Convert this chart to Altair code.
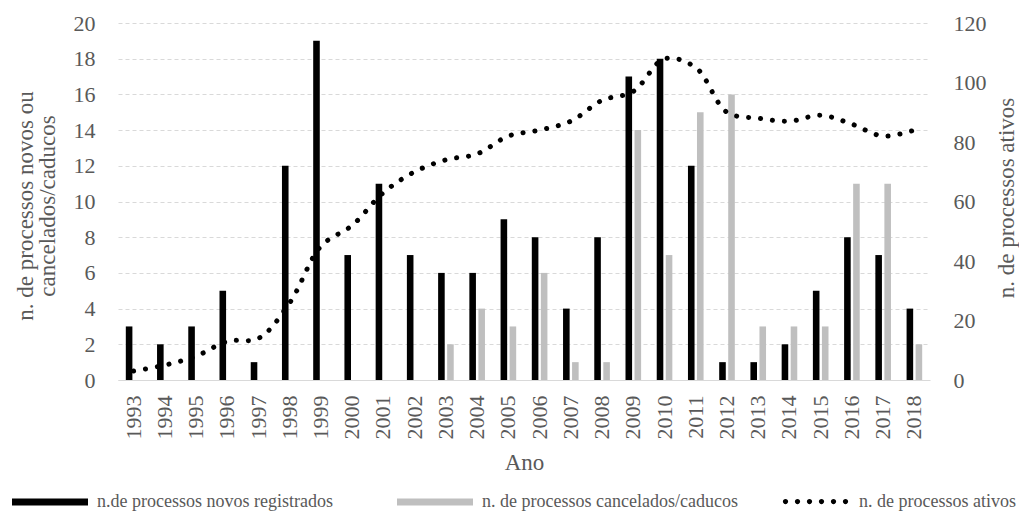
import altair as alt
import pandas as pd

anos = [str(y) for y in range(1993, 2019)]
novos = [3, 2, 3, 5, 1, 12, 19, 7, 11, 7, 6, 6, 9, 8, 4, 8, 17, 18, 12, 1, 1, 2, 5, 8, 7, 4]
cancelados = [0, 0, 0, 0, 0, 0, 0, 0, 0, 0, 2, 4, 3, 6, 1, 1, 14, 7, 15, 16, 3, 3, 3, 11, 11, 2]
ativos = [3, 5, 8, 13, 14, 26, 45, 52, 63, 70, 74, 76, 82, 84, 87, 94, 97, 108, 105, 90, 88, 87, 89, 86, 82, 84]

S1 = "n.de processos novos registrados"
S2 = "n. de processos cancelados/caducos"
S3 = "n. de processos ativos"

bars_df = pd.DataFrame({
    "ano": anos * 2,
    "serie": [S1] * len(anos) + [S2] * len(anos),
    "valor": novos + cancelados,
})
line_df = pd.DataFrame({"ano": anos, "ativos": ativos, "serie": [S3] * len(anos)})

FONT = "Liberation Serif"
TXT = "#595959"
W, H = 812, 357

# six round dots, as a legend symbol
_r = 0.07
_dots = "".join(
    f"M{c - _r:.3f},0A{_r},{_r} 0 1,0 {c + _r:.3f},0A{_r},{_r} 0 1,0 {c - _r:.3f},0Z"
    for c in [-0.8, -0.48, -0.16, 0.16, 0.48, 0.8]
)

x_enc = alt.X(
    "ano:N", sort=anos, title="Ano",
    scale=alt.Scale(paddingInner=0.5, paddingOuter=0.25),
    axis=alt.Axis(labelAngle=270, labelAlign="right", labelBaseline="middle",
                  labelPadding=15, ticks=False, domainColor="#d9d9d9", domainWidth=1,
                  grid=False, titleY=82, titleBaseline="middle"),
)

bars = alt.Chart(bars_df).mark_bar().encode(
    x=x_enc,
    xOffset=alt.XOffset("serie:N", sort=[S1, S2],
                        scale=alt.Scale(domain=[S1, S2], paddingInner=0.27, paddingOuter=0)),
    y=alt.Y("valor:Q", scale=alt.Scale(domain=[0, 20], nice=False),
            axis=alt.Axis(values=list(range(0, 21, 2)), ticks=False, domain=False,
                          grid=True, gridDash=[4, 3], gridColor="#d9d9d9",
                          labelPadding=23,
                          title=["n. de processos novos  ou", "cancelados/caducos"],
                          titleAngle=270, titleX=-93, titleY=H / 2 + 4,
                          titleAlign="center", titleBaseline="middle", titleLineHeight=22)),
    color=alt.Color("serie:N",
                    scale=alt.Scale(domain=[S1, S2], range=["#000000", "#bfbfbf"]),
                    legend=alt.Legend(orient="none", legendX=-106, legendY=441,
                                      direction="horizontal", title=None,
                                      symbolType="M-1,-0.09H1V0.09H-1Z",
                                      symbolSize=5776, symbolStrokeWidth=0,
                                      labelOffset=9, columnPadding=64,
                                      labelFontSize=18)),
)

line = alt.Chart(line_df).mark_line(
    color="black", strokeWidth=5, strokeCap="round", interpolate="catmull-rom"
).encode(
    x=alt.X("ano:N", sort=anos),
    y=alt.Y("ativos:Q", scale=alt.Scale(domain=[0, 120], nice=False),
            axis=alt.Axis(orient="right", values=list(range(0, 121, 20)), ticks=False,
                          domain=False, grid=False, labelPadding=23,
                          title=S3, titleAngle=270, titleX=76, titleY=H / 2 - 4,
                          titleAlign="center", titleBaseline="middle")),
    strokeDash=alt.StrokeDash("serie:N",
                              scale=alt.Scale(domain=[S3], range=[[0.1, 11.9]]),
                              legend=alt.Legend(orient="none", legendX=660, legendY=441,
                                                direction="horizontal", title=None,
                                                symbolType=_dots, symbolSize=5625,
                                                symbolStrokeWidth=0,
                                                symbolFillColor="black",
                                                labelOffset=6, labelFontSize=18)),
)

chart = alt.layer(bars, line).resolve_scale(
    y="independent"
).properties(
    width=W, height=H,
    autosize=alt.AutoSizeParams(type="none"),
    padding={"left": 110, "top": 15, "right": 89, "bottom": 132},
).configure_view(stroke=None).configure_axis(
    labelFont=FONT, titleFont=FONT, labelColor=TXT, titleColor=TXT,
    labelFontSize=22, titleFontSize=23, titleFontWeight="normal",
).configure_legend(
    labelFont=FONT, labelColor=TXT, labelLimit=400,
)

chart.save("out.html", embed_options={"renderer": "svg", "actions": False})
